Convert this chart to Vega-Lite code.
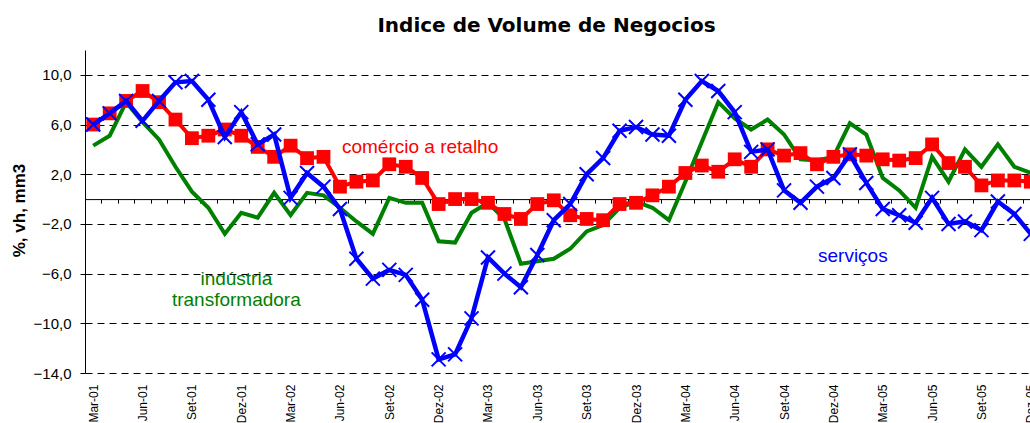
{
  "$schema": "https://vega.github.io/schema/vega-lite/v6.json",
  "autosize": "none",
  "width": 945,
  "height": 323,
  "padding": {"left": 85, "top": 50, "right": 0, "bottom": 50},
  "background": "white",
  "config": {"view": {"stroke": null}, "font": "Liberation Sans"},
  "title": {
    "text": "Indice de Volume de Negocios",
    "font": "DejaVu Sans",
    "fontSize": 20,
    "fontWeight": "bold",
    "color": "#000000",
    "anchor": "middle",
    "frame": "group",
    "baseline": "alphabetic",
    "offset": 20,
    "dx": -11,
    "dy": 22
  },
  "datasets": {
    "comercio": [
      {"mes": "Mar-01", "valor": 6.0}, {"mes": "Abr-01", "valor": 6.9}, {"mes": "Mai-01", "valor": 7.9}, {"mes": "Jun-01", "valor": 8.7},
      {"mes": "Jul-01", "valor": 7.8}, {"mes": "Ago-01", "valor": 6.4}, {"mes": "Set-01", "valor": 4.9}, {"mes": "Out-01", "valor": 5.1},
      {"mes": "Nov-01", "valor": 5.6}, {"mes": "Dez-01", "valor": 5.1}, {"mes": "Jan-02", "valor": 4.2}, {"mes": "Fev-02", "valor": 3.4},
      {"mes": "Mar-02", "valor": 4.3}, {"mes": "Abr-02", "valor": 3.3}, {"mes": "Mai-02", "valor": 3.4}, {"mes": "Jun-02", "valor": 1.0},
      {"mes": "Jul-02", "valor": 1.4}, {"mes": "Ago-02", "valor": 1.5}, {"mes": "Set-02", "valor": 2.8}, {"mes": "Out-02", "valor": 2.6},
      {"mes": "Nov-02", "valor": 1.7}, {"mes": "Dez-02", "valor": -0.4}, {"mes": "Jan-03", "valor": 0.0}, {"mes": "Fev-03", "valor": 0.0},
      {"mes": "Mar-03", "valor": -0.3}, {"mes": "Abr-03", "valor": -1.2}, {"mes": "Mai-03", "valor": -1.6}, {"mes": "Jun-03", "valor": -0.4},
      {"mes": "Jul-03", "valor": -0.1}, {"mes": "Ago-03", "valor": -1.3}, {"mes": "Set-03", "valor": -1.6}, {"mes": "Out-03", "valor": -1.7},
      {"mes": "Nov-03", "valor": -0.4}, {"mes": "Dez-03", "valor": -0.3}, {"mes": "Jan-04", "valor": 0.3}, {"mes": "Fev-04", "valor": 1.0},
      {"mes": "Mar-04", "valor": 2.1}, {"mes": "Abr-04", "valor": 2.7}, {"mes": "Mai-04", "valor": 2.2}, {"mes": "Jun-04", "valor": 3.2},
      {"mes": "Jul-04", "valor": 2.6}, {"mes": "Ago-04", "valor": 4.0}, {"mes": "Set-04", "valor": 3.5}, {"mes": "Out-04", "valor": 3.7},
      {"mes": "Nov-04", "valor": 2.8}, {"mes": "Dez-04", "valor": 3.4}, {"mes": "Jan-05", "valor": 3.6}, {"mes": "Fev-05", "valor": 3.5},
      {"mes": "Mar-05", "valor": 3.2}, {"mes": "Abr-05", "valor": 3.1}, {"mes": "Mai-05", "valor": 3.3}, {"mes": "Jun-05", "valor": 4.4},
      {"mes": "Jul-05", "valor": 2.9}, {"mes": "Ago-05", "valor": 2.6}, {"mes": "Set-05", "valor": 1.1}, {"mes": "Out-05", "valor": 1.5},
      {"mes": "Nov-05", "valor": 1.5}, {"mes": "Dez-05", "valor": 1.4}
    ],
    "servicos": [
      {"mes": "Mar-01", "valor": 6.0}, {"mes": "Abr-01", "valor": 6.9}, {"mes": "Mai-01", "valor": 7.9}, {"mes": "Jun-01", "valor": 6.3},
      {"mes": "Jul-01", "valor": 7.9}, {"mes": "Ago-01", "valor": 9.4}, {"mes": "Set-01", "valor": 9.5}, {"mes": "Out-01", "valor": 8.0},
      {"mes": "Nov-01", "valor": 5.0}, {"mes": "Dez-01", "valor": 7.0}, {"mes": "Jan-02", "valor": 4.4}, {"mes": "Fev-02", "valor": 5.2},
      {"mes": "Mar-02", "valor": 0.1}, {"mes": "Abr-02", "valor": 2.1}, {"mes": "Mai-02", "valor": 1.0}, {"mes": "Jun-02", "valor": -0.8},
      {"mes": "Jul-02", "valor": -4.8}, {"mes": "Ago-02", "valor": -6.4}, {"mes": "Set-02", "valor": -5.7}, {"mes": "Out-02", "valor": -6.1},
      {"mes": "Nov-02", "valor": -8.1}, {"mes": "Dez-02", "valor": -12.9}, {"mes": "Jan-03", "valor": -12.5}, {"mes": "Fev-03", "valor": -9.6},
      {"mes": "Mar-03", "valor": -4.7}, {"mes": "Abr-03", "valor": -6.0}, {"mes": "Mai-03", "valor": -7.1}, {"mes": "Jun-03", "valor": -4.5},
      {"mes": "Jul-03", "valor": -1.7}, {"mes": "Ago-03", "valor": -0.4}, {"mes": "Set-03", "valor": 2.0}, {"mes": "Out-03", "valor": 3.3},
      {"mes": "Nov-03", "valor": 5.5}, {"mes": "Dez-03", "valor": 5.8}, {"mes": "Jan-04", "valor": 5.2}, {"mes": "Fev-04", "valor": 5.1},
      {"mes": "Mar-04", "valor": 8.0}, {"mes": "Abr-04", "valor": 9.5}, {"mes": "Mai-04", "valor": 8.7}, {"mes": "Jun-04", "valor": 7.0},
      {"mes": "Jul-04", "valor": 3.8}, {"mes": "Ago-04", "valor": 4.0}, {"mes": "Set-04", "valor": 0.7}, {"mes": "Out-04", "valor": -0.3},
      {"mes": "Nov-04", "valor": 1.0}, {"mes": "Dez-04", "valor": 1.7}, {"mes": "Jan-05", "valor": 3.6}, {"mes": "Fev-05", "valor": 1.3},
      {"mes": "Mar-05", "valor": -0.8}, {"mes": "Abr-05", "valor": -1.3}, {"mes": "Mai-05", "valor": -1.9}, {"mes": "Jun-05", "valor": 0.1},
      {"mes": "Jul-05", "valor": -2.0}, {"mes": "Ago-05", "valor": -1.8}, {"mes": "Set-05", "valor": -2.5}, {"mes": "Out-05", "valor": -0.2},
      {"mes": "Nov-05", "valor": -1.2}, {"mes": "Dez-05", "valor": -2.8}
    ],
    "industria": [
      {"mes": "Mar-01", "valor": 4.3}, {"mes": "Abr-01", "valor": 5.1}, {"mes": "Mai-01", "valor": 7.8}, {"mes": "Jun-01", "valor": 6.2},
      {"mes": "Jul-01", "valor": 4.8}, {"mes": "Ago-01", "valor": 2.6}, {"mes": "Set-01", "valor": 0.6}, {"mes": "Out-01", "valor": -0.7},
      {"mes": "Nov-01", "valor": -2.8}, {"mes": "Dez-01", "valor": -1.1}, {"mes": "Jan-02", "valor": -1.5}, {"mes": "Fev-02", "valor": 0.5},
      {"mes": "Mar-02", "valor": -1.3}, {"mes": "Abr-02", "valor": 0.5}, {"mes": "Mai-02", "valor": 0.3}, {"mes": "Jun-02", "valor": -0.7},
      {"mes": "Jul-02", "valor": -1.8}, {"mes": "Ago-02", "valor": -2.8}, {"mes": "Set-02", "valor": 0.1}, {"mes": "Out-02", "valor": -0.3},
      {"mes": "Nov-02", "valor": -0.3}, {"mes": "Dez-02", "valor": -3.4}, {"mes": "Jan-03", "valor": -3.5}, {"mes": "Fev-03", "valor": -1.1},
      {"mes": "Mar-03", "valor": -0.3}, {"mes": "Abr-03", "valor": -1.6}, {"mes": "Mai-03", "valor": -5.2}, {"mes": "Jun-03", "valor": -5.0},
      {"mes": "Jul-03", "valor": -4.8}, {"mes": "Ago-03", "valor": -4.0}, {"mes": "Set-03", "valor": -2.6}, {"mes": "Out-03", "valor": -2.1},
      {"mes": "Nov-03", "valor": -0.7}, {"mes": "Dez-03", "valor": -0.2}, {"mes": "Jan-04", "valor": -0.7}, {"mes": "Fev-04", "valor": -1.7},
      {"mes": "Mar-04", "valor": 1.4}, {"mes": "Abr-04", "valor": 4.6}, {"mes": "Mai-04", "valor": 7.8}, {"mes": "Jun-04", "valor": 6.5},
      {"mes": "Jul-04", "valor": 5.6}, {"mes": "Ago-04", "valor": 6.4}, {"mes": "Set-04", "valor": 5.2}, {"mes": "Out-04", "valor": 3.2},
      {"mes": "Nov-04", "valor": 3.1}, {"mes": "Dez-04", "valor": 3.4}, {"mes": "Jan-05", "valor": 6.1}, {"mes": "Fev-05", "valor": 5.2},
      {"mes": "Mar-05", "valor": 1.7}, {"mes": "Abr-05", "valor": 0.7}, {"mes": "Mai-05", "valor": -0.7}, {"mes": "Jun-05", "valor": 3.4},
      {"mes": "Jul-05", "valor": 1.4}, {"mes": "Ago-05", "valor": 4.0}, {"mes": "Set-05", "valor": 2.6}, {"mes": "Out-05", "valor": 4.4},
      {"mes": "Nov-05", "valor": 2.6}, {"mes": "Dez-05", "valor": 2.1}
    ]
  },
  "layer": [
    {
      "encoding": {
        "x": {
          "field": "mes",
          "type": "nominal",
          "scale": {
            "type": "band",
            "paddingInner": 0,
            "paddingOuter": 0,
            "range": [0, 954],
            "domain": ["Mar-01","Abr-01","Mai-01","Jun-01","Jul-01","Ago-01","Set-01","Out-01","Nov-01","Dez-01","Jan-02","Fev-02","Mar-02","Abr-02","Mai-02","Jun-02","Jul-02","Ago-02","Set-02","Out-02","Nov-02","Dez-02","Jan-03","Fev-03","Mar-03","Abr-03","Mai-03","Jun-03","Jul-03","Ago-03","Set-03","Out-03","Nov-03","Dez-03","Jan-04","Fev-04","Mar-04","Abr-04","Mai-04","Jun-04","Jul-04","Ago-04","Set-04","Out-04","Nov-04","Dez-04","Jan-05","Fev-05","Mar-05","Abr-05","Mai-05","Jun-05","Jul-05","Ago-05","Set-05","Out-05","Nov-05","Dez-05"]
          },
          "axis": {
            "orient": "bottom",
            "offset": -173.9,
            "title": null,
            "grid": false,
            "domainColor": "#000000",
            "domainWidth": 1,
            "ticks": true,
            "tickBand": "extent",
            "tickSize": 4,
            "tickColor": "#000000",
            "labelAngle": 270,
            "labelPadding": 181,
            "labelFont": "Liberation Sans",
            "labelFontSize": 12,
            "labelColor": "#000000",
            "labelOverlap": false,
            "labelBound": false,
            "labelFlush": false,
            "labelExpr": "indexof(['Mar','Jun','Set','Dez'], slice(datum.label,0,3)) >= 0 ? datum.label : ''"
          }
        },
        "y": {
          "field": "valor",
          "type": "quantitative",
          "scale": {"domain": [-14, 12], "nice": false, "zero": false},
          "axis": {
            "values": [-14, -10, -6, -2, 2, 6, 10],
            "labelExpr": "replace(format(datum.value, '.1f'), '.', ',')",
            "grid": true,
            "gridDash": [7, 5],
            "gridColor": "#000000",
            "gridWidth": 1,
            "domainColor": "#000000",
            "tickColor": "#000000",
            "tickSize": 5,
            "labelFont": "Liberation Sans",
            "labelFontSize": 15,
            "labelColor": "#000000",
            "labelPadding": 9,
            "title": "%, vh, mm3",
            "titleFont": "Liberation Sans",
            "titleFontSize": 17,
            "titleFontWeight": "bold",
            "titleColor": "#000000",
            "titleAngle": -90,
            "titleX": -61,
            "titleY": 160,
            "titleAlign": "center",
            "titleBaseline": "alphabetic"
          }
        }
      },
      "layer": [
        {
          "data": {"name": "industria"},
          "mark": {"type": "line", "color": "#008000", "strokeWidth": 4}
        },
        {
          "data": {"name": "comercio"},
          "mark": {"type": "line", "color": "#FF0000", "strokeWidth": 4}
        },
        {
          "data": {"name": "comercio"},
          "mark": {"type": "point", "shape": "square", "filled": true, "size": 190, "color": "#FF0000", "opacity": 1}
        },
        {
          "data": {"name": "servicos"},
          "mark": {"type": "line", "color": "#0000FF", "strokeWidth": 4.5}
        },
        {
          "data": {"name": "servicos"},
          "mark": {"type": "point", "shape": "M-1,-1L1,1M1,-1L-1,1", "filled": false, "size": 196, "strokeWidth": 2, "color": "#0000FF", "opacity": 1}
        }
      ]
    },
    {
      "data": {"values": [{}]},
      "mark": {"type": "text", "text": "comércio a retalho", "align": "left", "baseline": "alphabetic", "dx": 2, "font": "Liberation Sans", "fontSize": 19, "color": "#FF0000"},
      "encoding": {"x": {"datum": "Jun-02", "type": "nominal"}, "y": {"datum": 3.7, "type": "quantitative"}}
    },
    {
      "data": {"values": [{}]},
      "mark": {"type": "text", "text": ["indústria", "transformadora"], "align": "center", "baseline": "middle", "lineHeight": 21.7, "dx": 11.5, "font": "Liberation Sans", "fontSize": 19, "color": "#008000"},
      "encoding": {"x": {"datum": "Nov-01", "type": "nominal"}, "y": {"datum": -6.4, "type": "quantitative"}}
    },
    {
      "data": {"values": [{}]},
      "mark": {"type": "text", "text": "serviços", "align": "center", "baseline": "alphabetic", "dx": 3, "font": "Liberation Sans", "fontSize": 19, "color": "#0000FF"},
      "encoding": {"x": {"datum": "Jan-05", "type": "nominal"}, "y": {"datum": -5.03, "type": "quantitative"}}
    }
  ]
}
